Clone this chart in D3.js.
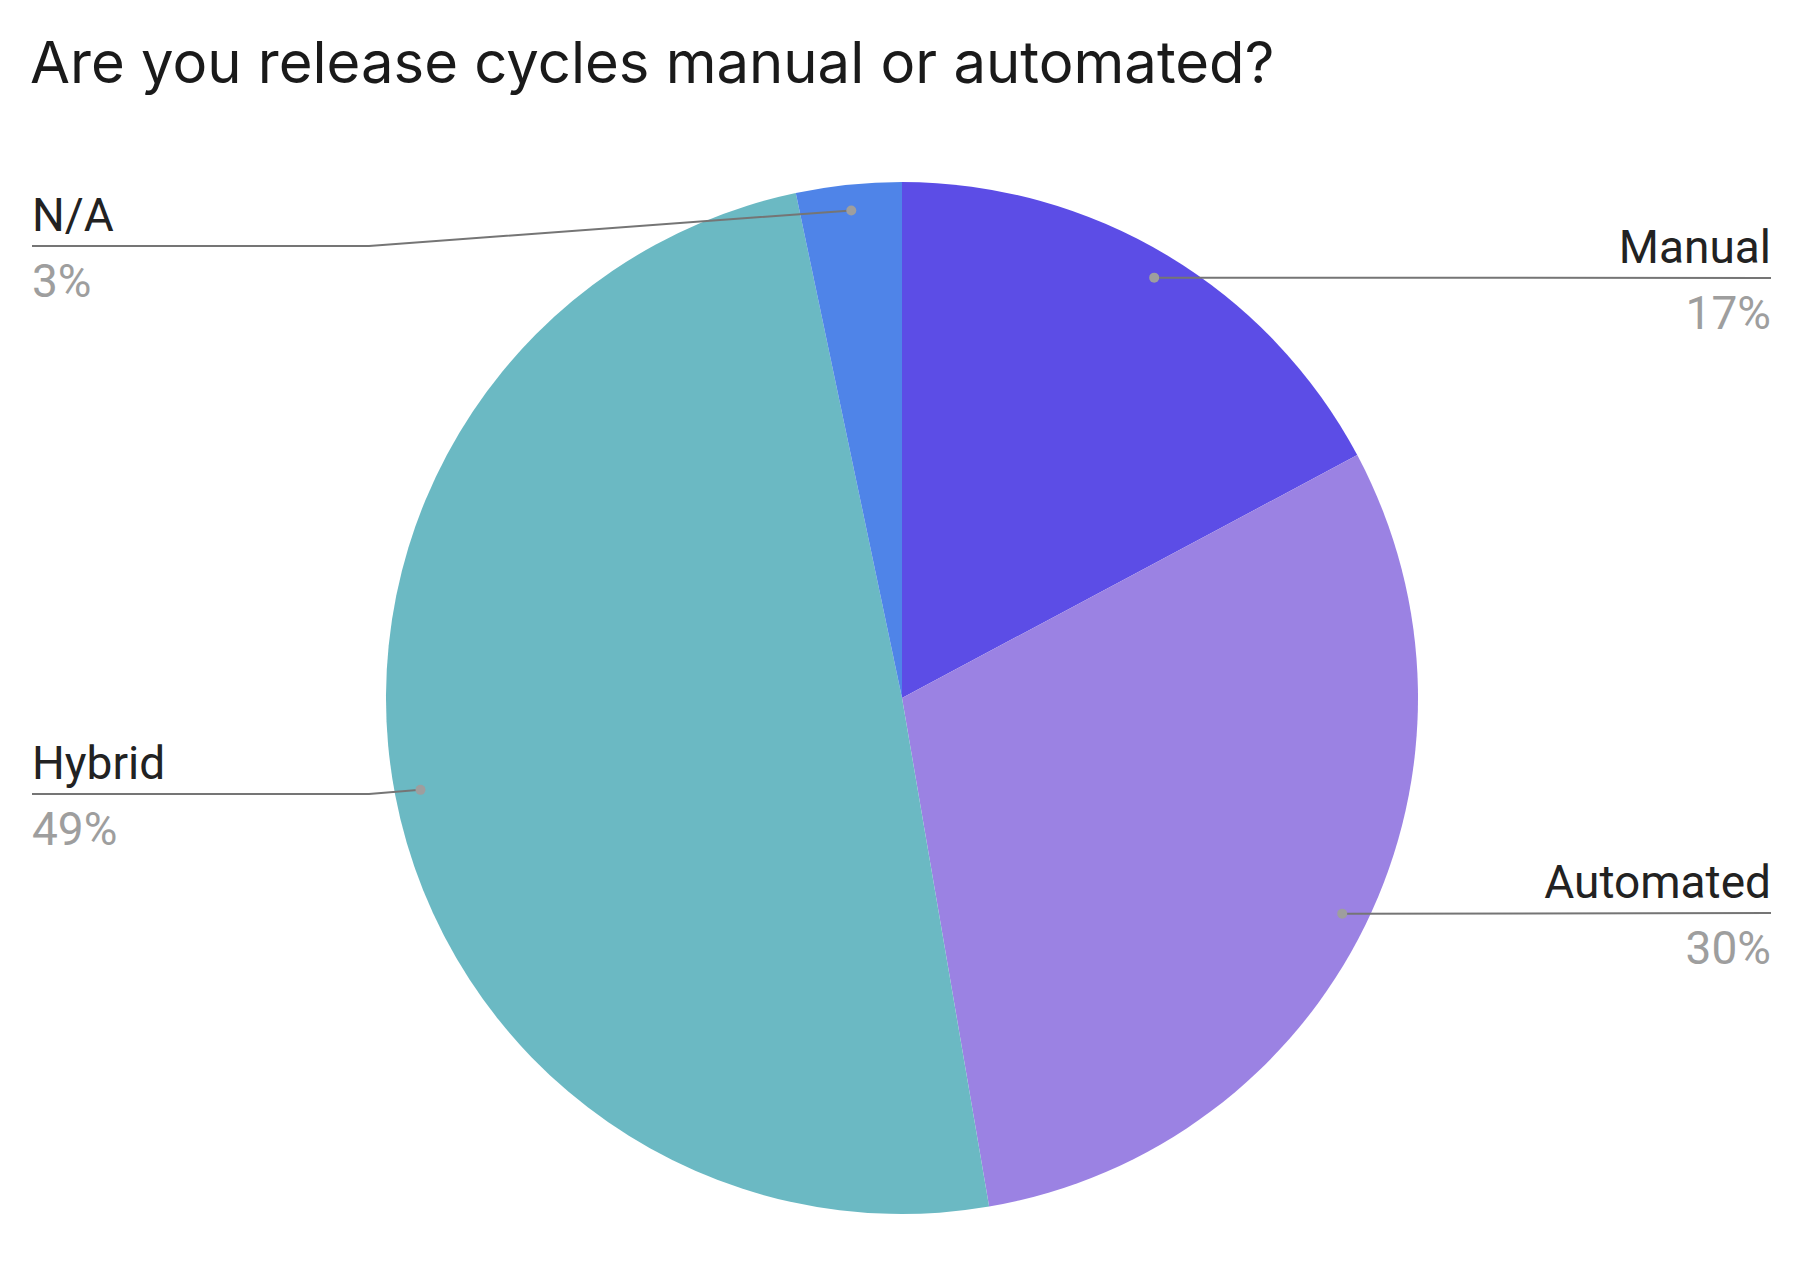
<!DOCTYPE html>
<html><head><meta charset="utf-8">
<script src="https://cdn.jsdelivr.net/npm/d3@7"></script>
<style>body{margin:0;background:#fff}</style>
</head><body><div class="chart"></div>
<script>
var categories = ["Manual", "Automated", "Hybrid", "N/A"];
var values = [17.2, 30.1, 49.4, 3.3];
var pctLabels = ["17%", "30%", "49%", "3%"];
var colors = ["#5c4de6", "#9b82e3", "#6bb9c3", "#4f84e8"];

var w = 1800, h = 1267;
var cx = 902, cy = 698, r = 516;
// label side and line y (layout only)
var side = ["right", "right", "left", "left"];
var lineY = [278, 913, 794, 246];

var svg = d3.select(".chart").append("svg").attr("width", w).attr("height", h);

svg.append("text").attr("x", 30).attr("y", 83)
    .style("font-family", "Inter, 'Open Sans', sans-serif").style("font-size", "58px")
    .attr("fill", "#1a1a1a").text("Are you release cycles manual or automated?");

var pie = d3.pie().sort(null).value(function(d){ return d; });
var arcs = pie(values);
var arc = d3.arc().innerRadius(0).outerRadius(r);
var dotArc = d3.arc().innerRadius(r * 0.95).outerRadius(r * 0.95);

var g = svg.append("g").attr("transform", "translate(" + cx + "," + cy + ")");
g.selectAll("path").data(arcs).enter().append("path")
    .attr("d", arc).attr("fill", function(d, i){ return colors[i]; });

arcs.forEach(function(d, i){
    var c = dotArc.centroid(d);
    var dx = cx + c[0], dy = cy + c[1];
    var ly = lineY[i];
    var endX = side[i] == "right" ? 1771 : 32;
    var pts = [[dx, dy]];
    if (Math.abs(ly - dy) > 3) pts.push([369, ly]);
    pts.push([endX, ly]);
    svg.append("path").attr("d", d3.line()(pts))
        .attr("fill", "none").attr("stroke", "#757575").attr("stroke-width", 2);
    svg.append("circle").attr("cx", dx).attr("cy", dy).attr("r", 5).attr("fill", "#9e9e9e");
    var anchor = side[i] == "right" ? "end" : "start";
    svg.append("text").attr("x", endX).attr("y", ly - 15).attr("text-anchor", anchor)
        .style("font-family", "Roboto, sans-serif").style("font-size", "46px")
        .attr("fill", "#222").text(categories[i]);
    svg.append("text").attr("x", endX).attr("y", ly + 51).attr("text-anchor", anchor)
        .style("font-family", "Roboto, sans-serif").style("font-size", "46px")
        .attr("fill", "#9e9e9e").text(pctLabels[i]);
});
</script></body></html>
